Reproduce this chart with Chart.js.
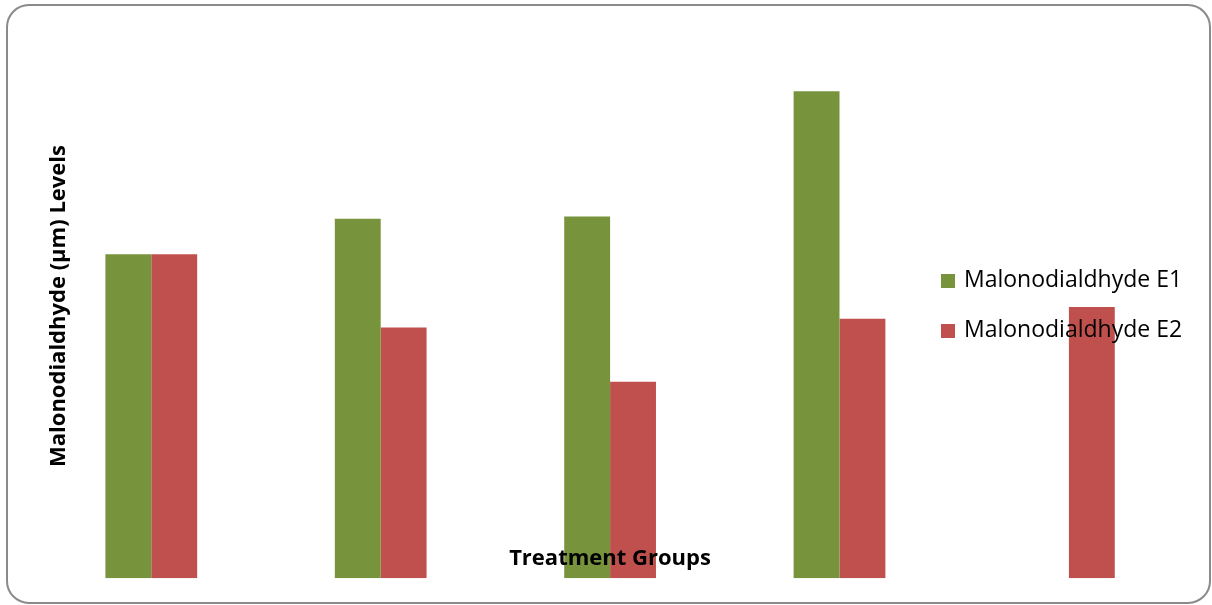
<!DOCTYPE html>
<html>
<head>
<meta charset="utf-8">
<script src="https://cdn.jsdelivr.net/npm/chart.js@4.4.1/dist/chart.umd.min.js"></script>
<style>
  html, body { margin: 0; padding: 0; background: #ffffff; }
  #wrap { width: 1212px; height: 605px; position: relative; }
</style>
</head>
<body>
<div id="wrap"><canvas id="c" width="1212" height="605"></canvas></div>
<script>
// Treatment groups and malonodialdehyde readings (µm)
const groups = ['Group 1', 'Group 2', 'Group 3', 'Group 4', 'Group 5'];
const mdaE1 = [6.02, 6.68, 6.72, 9.05, null];
const mdaE2 = [6.02, 4.66, 3.65, 4.82, 5.04];
const seriesNames = ['Malonodialdhyde E1', 'Malonodialdhyde E2'];
const seriesColors = ['#77933C', '#C0504D'];
const yTitle = 'Malonodialdhyde (µm) Levels';
const xTitle = 'Treatment Groups';

const FONT = '"Open Sans", Lato, sans-serif';

// rounded frame around the whole chart
const framePlugin = {
  id: 'frame',
  beforeDraw(chart) {
    const ctx = chart.ctx;
    ctx.save();
    ctx.fillStyle = '#ffffff';
    ctx.fillRect(0, 0, chart.width, chart.height);
    ctx.beginPath();
    ctx.roundRect(7, 5, 1203, 598, 22);
    ctx.lineWidth = 2;
    ctx.strokeStyle = '#8a8a8a';
    ctx.stroke();
    ctx.restore();
  }
};

// axis titles and legend are laid over the plot area
const overlayPlugin = {
  id: 'overlay',
  afterDraw(chart) {
    const ctx = chart.ctx;
    ctx.save();
    ctx.fillStyle = '#000000';
    ctx.textBaseline = 'middle';

    // x title
    ctx.font = 'bold 22px ' + FONT;
    ctx.textAlign = 'center';
    ctx.fillText(xTitle, 610, 559);

    // y title
    ctx.save();
    ctx.translate(59, 306);
    ctx.rotate(-Math.PI / 2);
    ctx.font = 'bold 22px ' + FONT;
    ctx.fillText(yTitle, 0, 0);
    ctx.restore();

    // legend
    ctx.textAlign = 'left';
    ctx.font = '23px ' + FONT;
    chart.data.datasets.forEach((ds, i) => {
      const cy = 281 + i * 50;
      ctx.fillStyle = ds.backgroundColor;
      ctx.fillRect(941, cy - 7, 14, 14);
      ctx.fillStyle = '#000000';
      ctx.fillText(ds.label, 964, cy - 1);
    });
    ctx.restore();
  }
};

new Chart(document.getElementById('c'), {
  type: 'bar',
  data: {
    labels: groups,
    datasets: [
      { label: seriesNames[0], data: mdaE1, backgroundColor: seriesColors[0] },
      { label: seriesNames[1], data: mdaE2, backgroundColor: seriesColors[1] }
    ]
  },
  options: {
    responsive: false,
    animation: false,
    devicePixelRatio: 1,
    layout: { padding: { left: 36.6, right: 28.4, top: 40, bottom: 26.7 } },
    datasets: { bar: { categoryPercentage: 0.4, barPercentage: 1.0, borderWidth: 0 } },
    scales: {
      x: { display: false, grid: { display: false } },
      y: { display: false, min: 0, max: 10, grid: { display: false } }
    },
    plugins: {
      legend: { display: false },
      tooltip: { enabled: false },
      title: { display: false }
    }
  },
  plugins: [framePlugin, overlayPlugin]
});
</script>
</body>
</html>
